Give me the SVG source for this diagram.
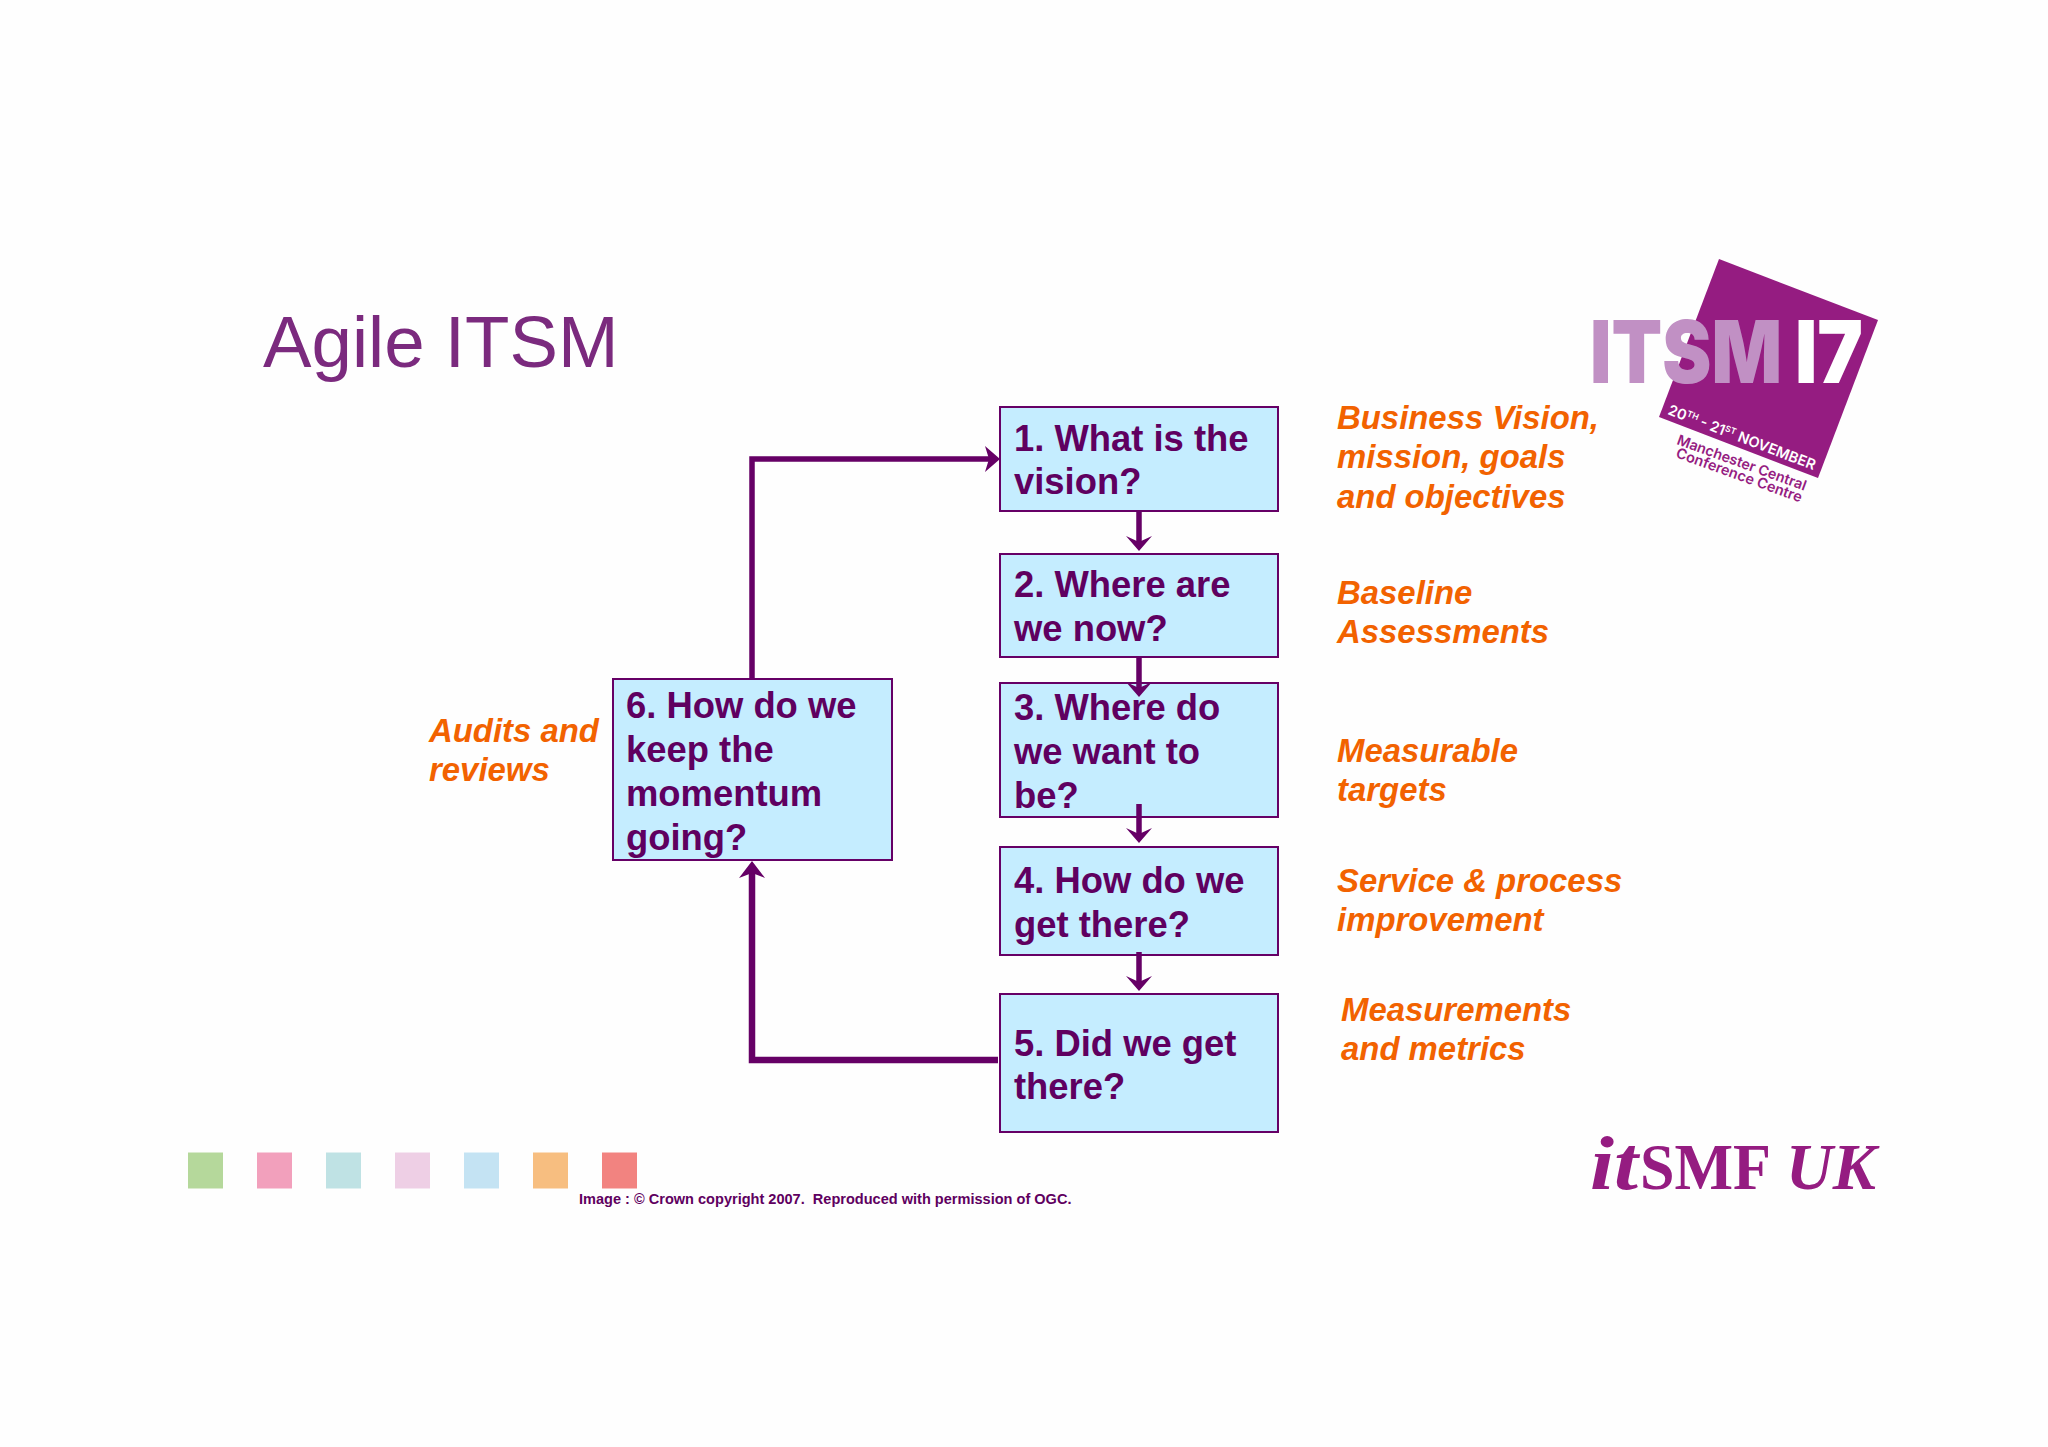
<svg xmlns="http://www.w3.org/2000/svg" width="2048" height="1447" viewBox="0 0 2048 1447">
<style>
text{font-family:"Liberation Sans",Arial,sans-serif}
.box{fill:#c5edff;stroke:#660066;stroke-width:2}
.q{font-size:36.4px;font-weight:700;fill:#5f0060}
.o{font-size:32.9px;font-weight:700;font-style:italic;fill:#f26200}
.c{fill:none;stroke:#660066}
.h{fill:#660066}
.logo{font-family:Inter,"Liberation Sans",sans-serif;font-weight:900;font-size:87px}
.r{font-family:Inter,"Liberation Sans",sans-serif;font-weight:600}
.s{font-family:"Liberation Serif",serif;font-weight:700;fill:#951c81;font-size:66px}
</style>
<rect width="2048" height="1447" fill="#fefefe"/>
<text x="263" y="367" font-size="72.7" fill="#7b2a7e">Agile ITSM</text>
<g id="swatches">
<rect x="188" y="1152.5" width="35" height="36" fill="#b5d89b"/>
<rect x="257" y="1152.5" width="35" height="36" fill="#f2a0bc"/>
<rect x="326" y="1152.5" width="35" height="36" fill="#bfe2e4"/>
<rect x="395" y="1152.5" width="35" height="36" fill="#eecfe5"/>
<rect x="464" y="1152.5" width="35" height="36" fill="#c4e3f3"/>
<rect x="533" y="1152.5" width="35" height="36" fill="#f7be80"/>
<rect x="602" y="1152.5" width="35" height="36" fill="#f28380"/>
</g>
<g id="logo-itsm17">
<polygon points="1719,259 1878,320 1818,478 1659,417" fill="#951c81"/>
<text class="logo" transform="translate(1590,383) scale(.8,1)" x="0" y="0" fill="#c190c4" textLength="240" lengthAdjust="spacingAndGlyphs">ITSM</text>
<text class="logo" transform="translate(1795,383) scale(.8,1)" x="0" y="0" fill="#fff" textLength="85" lengthAdjust="spacingAndGlyphs">I7</text>
<g transform="translate(1667,414) rotate(21)">
<text class="r" font-size="14.5" fill="#fff" font-weight="700">20<tspan font-size="8.5" dy="-5">TH</tspan><tspan dy="5"> - 21</tspan><tspan font-size="8.5" dy="-5">ST</tspan><tspan dy="5"> NOVEMBER</tspan></text>
</g>
<g transform="translate(1676,444) rotate(20)"><text class="r" font-size="14.3" fill="#951c81">Manchester Central</text></g>
<g transform="translate(1675,457) rotate(20)"><text class="r" font-size="14.5" fill="#951c81">Conference Centre</text></g>
</g>
<g id="logo-itsmf">
<text class="s" x="1590" y="1189" font-style="italic" style="font-size:76px" textLength="48" lengthAdjust="spacingAndGlyphs">it</text>
<text class="s" x="1640" y="1189" textLength="131" lengthAdjust="spacingAndGlyphs">SMF</text>
<text class="s" x="1786" y="1189" font-style="italic" textLength="90" lengthAdjust="spacingAndGlyphs">UK</text>
</g>
<g id="connectors">
<path class="c" stroke-width="5.5" d="M752 679V459H996"/>
<path class="h" d="M1000 459L985 446L989 459L985 472Z"/>
<path class="c" stroke-width="6.5" d="M998 1060H752V866"/>
<path class="h" d="M752 861L739 878L752 873L765 878Z"/>
</g>
<g id="node1"><rect class="box" x="1000" y="407" width="278" height="104"/><text class="q" x="1014" y="451">1. What is the<tspan x="1014" y="494">vision?</tspan></text></g>
<g id="node2"><rect class="box" x="1000" y="554" width="278" height="103"/><text class="q" x="1014" y="597">2. Where are<tspan x="1014" y="641">we now?</tspan></text></g>
<g id="node3"><rect class="box" x="1000" y="683" width="278" height="134"/><text class="q" x="1014" y="720">3. Where do<tspan x="1014" y="764">we want to</tspan><tspan x="1014" y="808">be?</tspan></text></g>
<g id="node4"><rect class="box" x="1000" y="847" width="278" height="108"/><text class="q" x="1014" y="893">4. How do we<tspan x="1014" y="937">get there?</tspan></text></g>
<g id="node5"><rect class="box" x="1000" y="994" width="278" height="138"/><text class="q" x="1014" y="1056">5. Did we get<tspan x="1014" y="1099">there?</tspan></text></g>
<g id="node6"><rect class="box" x="613" y="679" width="279" height="181"/><text class="q" x="626" y="718">6. How do we<tspan x="626" y="762">keep the</tspan><tspan x="626" y="806">momentum</tspan><tspan x="626" y="850">going?</tspan></text></g>
<g id="connectors-vertical">
<path class="c" stroke-width="5.5" d="M1139 512V547M1139 657V692M1139 804V839M1139 952V987"/>
<path class="h" d="M1139 551L1126 536L1139 542L1152 536Z"/>
<path class="h" d="M1139 697L1126 682L1139 688L1152 682Z"/>
<path class="h" d="M1139 843L1126 828L1139 834L1152 828Z"/>
<path class="h" d="M1139 991L1126 976L1139 982L1152 976Z"/>
</g>
<g id="labels">
<text class="o" x="1337" y="429">Business Vision,<tspan x="1337" y="468">mission, goals</tspan><tspan x="1337" y="508">and objectives</tspan></text>
<text class="o" x="1337" y="604">Baseline<tspan x="1337" y="643">Assessments</tspan></text>
<text class="o" x="1337" y="762">Measurable<tspan x="1337" y="801">targets</tspan></text>
<text class="o" x="1337" y="892">Service &amp; process<tspan x="1337" y="931">improvement</tspan></text>
<text class="o" x="1341" y="1021">Measurements<tspan x="1341" y="1060">and metrics</tspan></text>
<text class="o" x="429" y="742">Audits and<tspan x="429" y="781">reviews</tspan></text>
</g>
<text x="579" y="1204" font-size="14.55" font-weight="700" fill="#5f0060" style="white-space:pre">Image : © Crown copyright 2007.  Reproduced with permission of OGC.</text>
</svg>
